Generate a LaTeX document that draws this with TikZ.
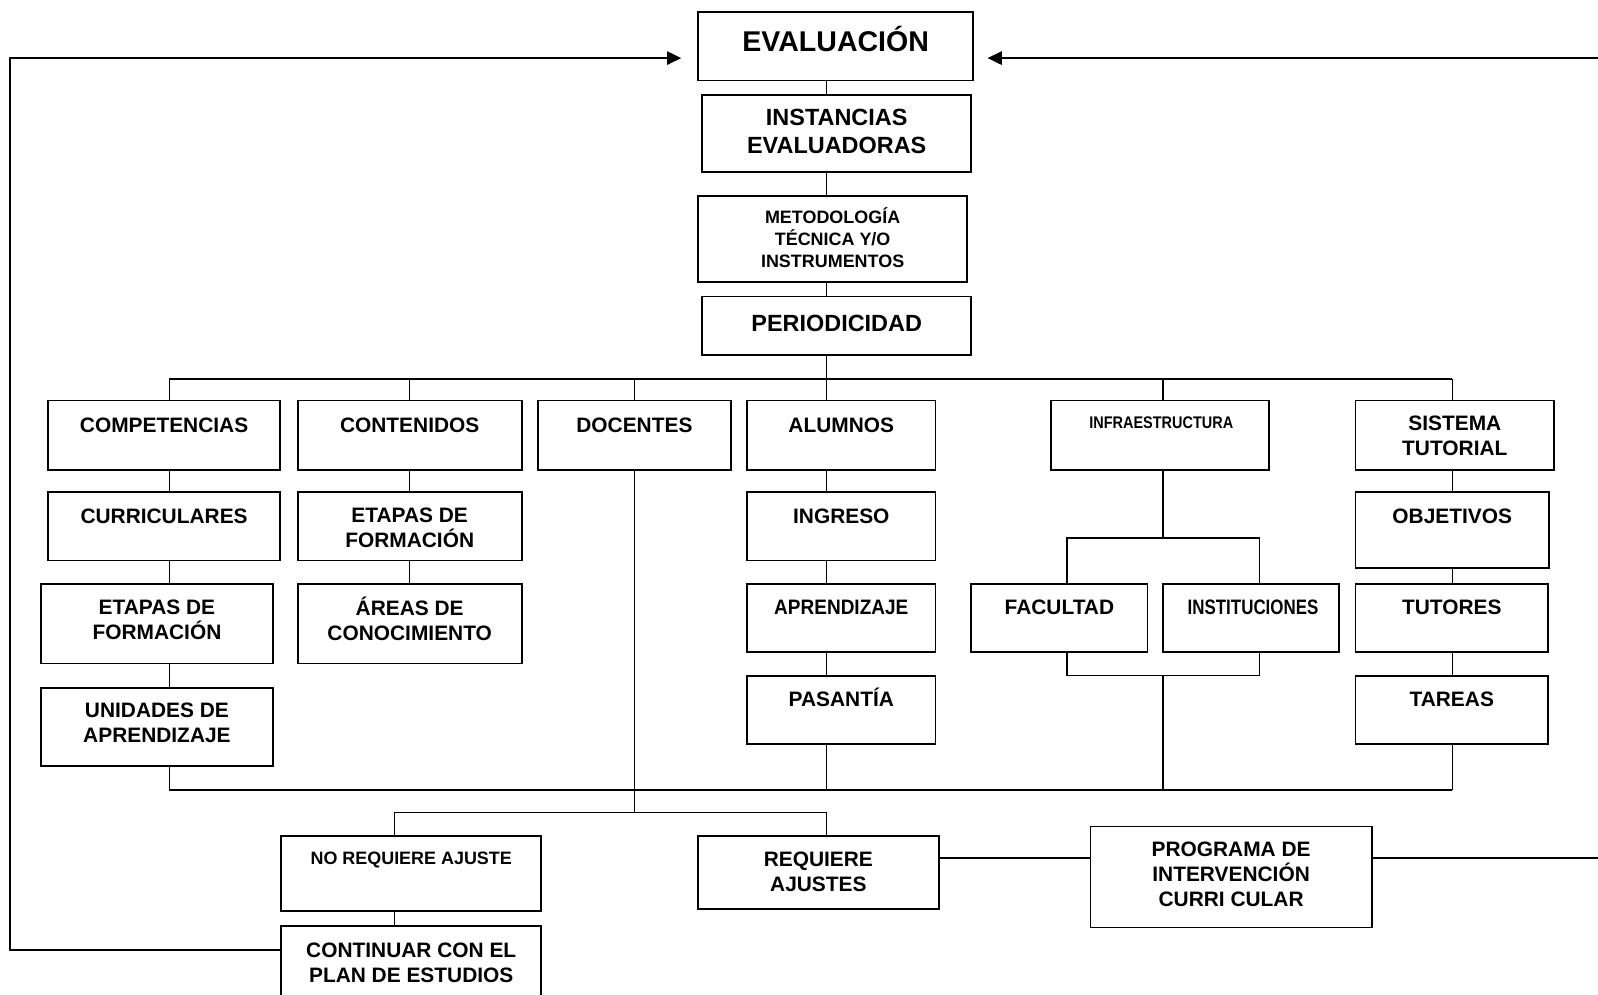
\documentclass[tikz,border=0pt]{standalone}
\usepackage{fontspec}
\setmainfont{Liberation Sans}
\usetikzlibrary{arrows.meta,fit}
\begin{document}
\begin{tikzpicture}[x=1pt,y=-1pt,
  box/.style={draw, line width=1.8pt, inner sep=0pt, outer sep=0pt},
  conn/.style={line width=1.3pt},
  loopln/.style={line width=2pt},
  tx/.style={align=center, inner sep=0pt, font=\bfseries\fontsize{20.5}{24.5}\selectfont},
  tbig/.style={align=center, inner sep=0pt, font=\bfseries\fontsize{23}{28}\selectfont},
  ttitle/.style={align=center, inner sep=0pt, font=\bfseries\fontsize{28}{32}\selectfont},
  tsmall/.style={align=center, inner sep=0pt, font=\bfseries\fontsize{17.6}{21.5}\selectfont},
  onetx/.style={text height=14.7pt, text depth=0pt},
  onebig/.style={text height=16.5pt, text depth=0pt},
  onetitle/.style={text height=20pt, text depth=0pt},
  onesmall/.style={text height=12.6pt, text depth=0pt},
  arr/.style={-{Triangle[length=14pt,width=13pt]}}
]
\useasboundingbox (0,0) rectangle (1568,975.4);
\fill[white] (0,0) rectangle (1568,975.4);

% boxes
\node[box, fit={(685,12)(955,79)}] (ev) {};
\node[box, fit={(689,93)(953,169)}] (inst) {};
\node[box, fit={(685,192)(949,277)}] (met) {};
\node[box, fit={(689,291)(953,348)}] (per) {};
\node[box, fit={(47,393)(275,461)}] (comp) {};
\node[box, fit={(292,393)(512,461)}] (cont) {};
\node[box, fit={(528,393)(717,461)}] (doc) {};
\node[box, fit={(733,393)(918,461)}] (alu) {};
\node[box, fit={(1031,393)(1245,461)}] (infra) {};
\node[box, fit={(1330,393)(1525,461)}] (sis) {};
\node[box, fit={(47,483)(275,550)}] (cur) {};
\node[box, fit={(292,483)(512,550)}] (eta2) {};
\node[box, fit={(733,483)(918,550)}] (ing) {};
\node[box, fit={(1330,483)(1520,557)}] (obj) {};
\node[box, fit={(40,573)(268,651)}] (eta1) {};
\node[box, fit={(292,573)(512,651)}] (areas) {};
\node[box, fit={(733,573)(918,640)}] (apr) {};
\node[box, fit={(953,573)(1126,640)}] (fac) {};
\node[box, fit={(1141,573)(1314,640)}] (ins) {};
\node[box, fit={(1330,573)(1519,640)}] (tut) {};
\node[box, fit={(40,675)(268,752)}] (uni) {};
\node[box, fit={(733,663)(918,730)}] (pas) {};
\node[box, fit={(1330,663)(1519,730)}] (tar) {};
\node[box, fit={(276,820)(531,894)}] (noreq) {};
\node[box, fit={(685,820)(921,892)}] (req) {};
\node[box, fit={(1070,811)(1346,910)}] (prog) {};
\node[box, fit={(276,909)(531,1000)}] (cpl) {};

% texts
\node[ttitle, onetitle] (ev-t) at (820,41) {EVALUACIÓN};
\node[tbig] (inst-t) at (821,129) {INSTANCIAS\\EVALUADORAS};
\node[tsmall] (met-t) at (817,233.5) {METODOLOGÍA\\TÉCNICA Y/O\\INSTRUMENTOS};
\node[tbig, onebig] (per-t) at (821,317) {PERIODICIDAD};
\node[tx, onetx] (comp-t) at (161,417) {COMPETENCIAS};
\node[tx, onetx] (cont-t) at (402,417) {CONTENIDOS};
\node[tx, onetx] (doc-t) at (622.5,417) {DOCENTES};
\node[tx, onetx] (alu-t) at (825.5,417) {ALUMNOS};
\node[inner sep=0pt, font=\bfseries\fontsize{16.5}{20}\selectfont, text height=11.8pt, text depth=0pt] (infra-t) at (1139.5,415) {\scalebox{0.86}[1]{INFRAESTRUCTURA}};
\node[tx] (sis-t) at (1427.5,427.5) {SISTEMA\\TUTORIAL};
\node[tx, onetx] (cur-t) at (161,506) {CURRICULARES};
\node[tx] (eta2-t) at (402,517.5) {ETAPAS DE\\FORMACIÓN};
\node[tx, onetx] (ing-t) at (825.5,506) {INGRESO};
\node[tx, onetx] (obj-t) at (1425,506) {OBJETIVOS};
\node[tx] (eta1-t) at (154,608) {ETAPAS DE\\FORMACIÓN};
\node[tx] (areas-t) at (402,607) {ÁREAS DE\\CONOCIMIENTO};
\node[tx, onetx] (apr-t) at (825.5,596) {\scalebox{0.91}[1]{APRENDIZAJE}};
\node[tx, onetx] (fac-t) at (1039.5,596) {FACULTAD};
\node[tx, onetx] (ins-t) at (1229.5,596) {\scalebox{0.81}[1]{INSTITUCIONES}};
\node[tx, onetx] (tut-t) at (1424.5,596) {TUTORES};
\node[tx] (uni-t) at (154,709.5) {UNIDADES DE\\APRENDIZAJE};
\node[tx, onetx] (pas-t) at (825.5,686) {PASANTÍA};
\node[tx, onetx] (tar-t) at (1424.5,686) {TAREAS};
\node[tsmall, onesmall] (noreq-t) at (403.5,842) {NO REQUIERE AJUSTE};
\node[tx] (req-t) at (803,855) {REQUIERE\\AJUSTES};
\node[tx] (prog-t) at (1208,858) {PROGRAMA DE\\INTERVENCIÓN\\CURRI CULAR};
\node[tx] (cpl-t) at (403.5,945) {CONTINUAR CON EL\\PLAN DE ESTUDIOS};

% helper coordinates
\coordinate (X) at (811,0);
\coordinate (t1) at (166,372);
\coordinate (t2) at (402,372);
\coordinate (t3) at (622.5,372);
\coordinate (tc) at (811,372);
\coordinate (t5) at (1141,372);
\coordinate (t6) at (1425,372);
\coordinate (b1) at (166,775);
\coordinate (b6) at (1425,775);
\coordinate (i1) at (1141,528);
\coordinate (i2) at (1047,528);
\coordinate (i3) at (1236,528);
\coordinate (k1) at (1141,663);
\coordinate (k2) at (1047,663);
\coordinate (k3) at (1236,663);
\coordinate (j) at (622.5,797);
\coordinate (h1) at (387,797);
\coordinate (h2) at (811,797);
\coordinate (ry) at (0,842);
\coordinate (L1) at (10,932);
\coordinate (L2) at (10,57);
\coordinate (R) at (1580,57);
\coordinate (R2) at (1580,842);

% top chain
\draw[conn] (ev.south -| X) -- (inst.north -| X);
\draw[conn] (inst.south -| X) -- (met.north -| X);
\draw[conn] (met.south -| X) -- (per.north -| X);
\draw[conn] (per.south -| X) -- (tc);
\draw[conn] (t1) -- (t6);
\draw[conn] (t1) -- (t1 |- comp.north);
\draw[conn] (t2) -- (t2 |- cont.north);
\draw[conn] (t3) -- (t3 |- doc.north);
\draw[conn] (tc) -- (tc |- alu.north);
\draw[conn] (t5) -- (t5 |- infra.north);
\draw[conn] (t6) -- (t6 |- sis.north);

% column 1
\draw[conn] (comp.south -| t1) -- (cur.north -| t1);
\draw[conn] (cur.south -| t1) -- (eta1.north -| t1);
\draw[conn] (eta1.south -| t1) -- (uni.north -| t1);
\draw[conn] (uni.south -| t1) -- (b1);
% column 2
\draw[conn] (cont.south -| t2) -- (eta2.north -| t2);
\draw[conn] (eta2.south -| t2) -- (areas.north -| t2);
% alumnos
\draw[conn] (alu.south -| X) -- (ing.north -| X);
\draw[conn] (ing.south -| X) -- (apr.north -| X);
\draw[conn] (apr.south -| X) -- (pas.north -| X);
\draw[conn] (pas.south -| X) -- (X |- b1);
% infraestructura
\draw[conn] (infra.south -| i1) -- (i1);
\draw[conn] (fac.north -| i2) -- (i2) -- (i3) -- (ins.north -| i3);
\draw[conn] (fac.south -| k2) -- (k2) -- (k3) -- (ins.south -| k3);
\draw[conn] (k1) -- (k1 |- b1);
% sistema tutorial
\draw[conn] (sis.south -| t6) -- (obj.north -| t6);
\draw[conn] (obj.south -| t6) -- (tut.north -| t6);
\draw[conn] (tut.south -| t6) -- (tar.north -| t6);
\draw[conn] (tar.south -| t6) -- (b6);
% bottom bus
\draw[conn] (b1) -- (b6);
\draw[conn] (doc.south) -- (j);
\draw[conn] (h1) -- (h2);
\draw[conn] (h1) -- (noreq.north -| h1);
\draw[conn] (h2) -- (req.north -| h2);
\draw[conn] (noreq.south -| h1) -- (cpl.north -| h1);
\draw[conn] (req.east |- ry) -- (prog.west |- ry);
\draw[conn] (prog.east |- ry) -- (R2);

% feedback loops
\draw[loopln, arr, shorten >=16.5pt] (cpl.west |- L1) -- (L1) -- (L2) -- (ev.west |- L2);
\draw[loopln, arr, shorten >=14pt] (R) -- (ev.east |- R);
\end{tikzpicture}
\end{document}
